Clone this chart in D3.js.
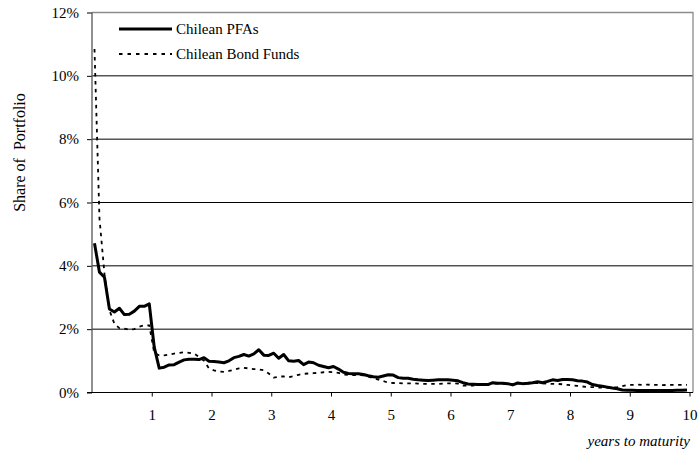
<!DOCTYPE html>
<html><head><meta charset="utf-8">
<script src="https://cdn.jsdelivr.net/npm/d3@7"></script>
<style>
body{margin:0;background:#fff;}
text{font-family:"Liberation Serif","Times New Roman",serif;fill:#000;}
</style>
</head><body>
<svg id="chart" width="699" height="455"></svg>
<script>
// months to maturity (1..120), plotted at mid-month in years
const months = d3.range(1, 121);
const pfa = [4.71,3.80,3.64,2.64,2.54,2.66,2.46,2.47,2.57,2.72,2.72,2.80,
1.43,0.77,0.80,0.87,0.88,0.96,1.03,1.05,1.05,1.04,1.10,0.99,
0.98,0.96,0.94,1.00,1.10,1.14,1.20,1.15,1.22,1.35,1.18,1.17,
1.24,1.08,1.20,1.00,0.99,1.01,0.88,0.96,0.94,0.86,0.82,0.78,
0.82,0.74,0.64,0.60,0.59,0.59,0.57,0.53,0.50,0.48,0.52,0.56,
0.55,0.47,0.45,0.45,0.42,0.40,0.39,0.38,0.39,0.40,0.40,0.40,
0.39,0.37,0.31,0.27,0.26,0.25,0.25,0.25,0.31,0.29,0.29,0.28,
0.24,0.30,0.28,0.29,0.31,0.34,0.31,0.35,0.40,0.38,0.41,0.41,
0.40,0.37,0.36,0.33,0.25,0.22,0.20,0.17,0.14,0.12,0.08,0.07,
0.07,0.06,0.06,0.06,0.06,0.06,0.06,0.06,0.06,0.07,0.07,0.08];
const bond = [10.85,5.50,3.75,2.60,2.17,2.03,2.02,1.98,2.00,2.08,2.12,2.12,
1.25,1.17,1.17,1.20,1.23,1.25,1.27,1.25,1.23,1.12,1.00,0.76,
0.70,0.66,0.65,0.68,0.72,0.76,0.78,0.76,0.74,0.73,0.70,0.60,
0.47,0.50,0.51,0.48,0.52,0.56,0.59,0.60,0.61,0.62,0.64,0.65,
0.64,0.62,0.57,0.56,0.55,0.55,0.54,0.50,0.45,0.41,0.36,0.31,
0.30,0.30,0.29,0.29,0.29,0.28,0.27,0.27,0.27,0.27,0.28,0.29,
0.29,0.28,0.22,0.22,0.22,0.23,0.24,0.25,0.28,0.28,0.27,0.27,
0.26,0.28,0.28,0.28,0.29,0.30,0.29,0.28,0.27,0.27,0.26,0.24,
0.22,0.21,0.19,0.17,0.17,0.16,0.15,0.15,0.15,0.17,0.20,0.24,
0.24,0.25,0.24,0.25,0.24,0.24,0.23,0.24,0.24,0.24,0.24,0.24];
const xTicks = [1,2,3,4,5,6,7,8,9,10];
const yTicks = [0,2,4,6,8,10,12];
const seriesNames = ["Chilean PFAs","Chilean Bond Funds"];

const svg = d3.select("#chart");
const x = d3.scaleLinear().domain([0,10]).range([92,689.5]);
const y = d3.scaleLinear().domain([0,12]).range([392.5,12.5]);
const frameRight = 693;

// gridlines
svg.append("g").selectAll("line").data(yTicks.filter(d=>d>0 && d<12)).join("line")
  .attr("x1",92).attr("x2",frameRight).attr("y1",d=>y(d)).attr("y2",d=>y(d))
  .attr("stroke","#000").attr("stroke-width",1);
// frame top/right
svg.append("path")
  .attr("d",`M92,${y(12)}H${frameRight}V${y(0)}`)
  .attr("fill","none").attr("stroke","#8c8c8c").attr("stroke-width",1.3);

// y axis
const yAxis = d3.axisLeft(y).tickValues(yTicks).tickSize(5).tickPadding(8)
  .tickFormat(d=>d+"%");
const gy = svg.append("g").attr("transform","translate(92,0)").call(yAxis);
gy.select(".domain").remove();
gy.selectAll(".tick line").attr("stroke","#000");
gy.selectAll(".tick text").style("font-size","15px").attr("font-family",null);
svg.append("line").attr("x1",92).attr("x2",92).attr("y1",y(12)).attr("y2",y(0))
  .attr("stroke","#555").attr("stroke-width",1.3);

// x axis
const xAxis = d3.axisBottom(x).tickValues(xTicks).tickSize(4).tickPadding(13)
  .tickFormat(d3.format("d"));
const gx = svg.append("g").attr("transform",`translate(0,${y(0)})`).call(xAxis);
gx.select(".domain").remove();
gx.selectAll(".tick line").attr("stroke","#000");
gx.selectAll(".tick text").style("font-size","15px").attr("font-family",null);
svg.append("line").attr("x1",87).attr("x2",frameRight).attr("y1",y(0)).attr("y2",y(0))
  .attr("stroke","#000").attr("stroke-width",1);

// lines
const line = d3.line().x((d,i)=>x((months[i]-0.5)/12)).y(d=>y(d));
svg.append("path").datum(bond).attr("d",line).attr("fill","none")
  .attr("stroke","#000").attr("stroke-width",1.8).attr("stroke-dasharray","3.5,4.5");
svg.append("path").datum(pfa).attr("d",line).attr("fill","none")
  .attr("stroke","#000").attr("stroke-width",3).attr("stroke-linejoin","round");

// legend
const lg = svg.append("g");
lg.append("line").attr("x1",119).attr("x2",172).attr("y1",29).attr("y2",29)
  .attr("stroke","#000").attr("stroke-width",3);
lg.append("text").attr("x",176).attr("y",34).style("font-size","15px").text(seriesNames[0]);
lg.append("line").attr("x1",119).attr("x2",172).attr("y1",54).attr("y2",54)
  .attr("stroke","#000").attr("stroke-width",1.8).attr("stroke-dasharray","3.5,5");
lg.append("text").attr("x",176).attr("y",59).style("font-size","15px").text(seriesNames[1]);

// axis titles
svg.append("text").attr("transform","translate(24.5,152.5) rotate(-90)")
  .attr("text-anchor","middle").style("font-size","16px")
  .attr("xml:space","preserve").style("white-space","pre").text("Share of  Portfolio");
svg.append("text").attr("x",690).attr("y",446).attr("text-anchor","end")
  .style("font-size","15px").style("font-style","italic").text("years to maturity");
</script>
</body></html>
